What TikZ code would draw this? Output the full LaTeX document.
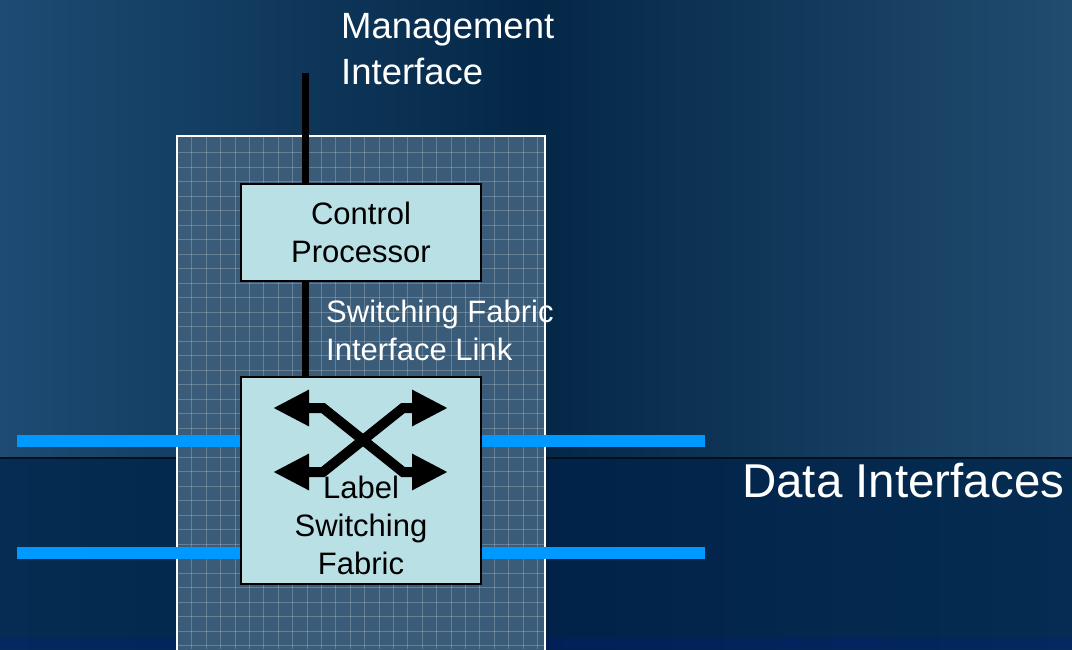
\documentclass[tikz,border=0pt]{standalone}
\usepackage{fontspec}
\setmainfont{Liberation Sans}
\usetikzlibrary{arrows.meta}

\definecolor{fondoA}{HTML}{1D4B73}
\definecolor{fondoB}{HTML}{042747}
\definecolor{fondoC}{HTML}{214C6F}
\definecolor{fondoD}{HTML}{052C52}
\definecolor{fondoE}{HTML}{022248}
\definecolor{panel}{HTML}{3A5C78}
\definecolor{caja}{HTML}{B9E0E4}
\definecolor{datos}{HTML}{0099FF}

\begin{document}
\begin{tikzpicture}[x=1pt, y=-1pt,
    bloque/.style={draw=black, line width=2pt, fill=caja, inner sep=0pt, minimum width=240pt, align=center, font=\fontsize{31}{38}\selectfont},
    texto/.style={inner sep=0pt, align=center, font=\fontsize{31}{38}\selectfont},
    rotulo/.style={text=white, inner sep=0pt, align=left, font=\fontsize{31}{38}\selectfont},
    linea/.style={line width=7pt, draw=black},
    enlace/.style={line width=12pt, draw=datos},
    flecha/.style={line width=10pt, {Triangle[length=36pt,width=34pt]}-{Triangle[length=36pt,width=34pt]}}
]
    \useasboundingbox (0,0) rectangle (1072,649);

    % --- FONDO ---
    \shade[left color=fondoA, right color=fondoC, middle color=fondoB] (0,0) rectangle (1072,458);
    \shade[left color=fondoD, right color=fondoD, middle color=fondoE] (0,458) rectangle (1072,649);
    \draw[line width=2pt, draw=black!60!fondoB] (0,458) -- (1072,458);
    \fill[blue!60!fondoD, opacity=0.15] (0,637) rectangle (1072,649);

    % --- PANEL CUADRICULADO ---
    \fill[panel] (177,136) rectangle (545,660);
    \foreach \x in {191.7,206.1,...,545} \draw[white, opacity=0.22, line width=0.7pt] (\x,136) -- (\x,649);
    \foreach \y in {152.8,167.3,...,649} \draw[white, opacity=0.22, line width=0.7pt] (177,\y) -- (545,\y);
    \draw[white, line width=2pt] (177,136) rectangle (545,660);

    % --- INTERFAZ DE GESTION Y PROCESADOR DE CONTROL ---
    \coordinate (MI) at (305,73);
    \node[bloque, minimum height=97pt] (CP) at (361,232.5) {Control\\Processor};
    \draw[linea] (MI) -- (MI |- CP.north);

    % --- MATRIZ DE CONMUTACION ---
    \node[bloque, minimum height=207pt] (LSF) at (361,480.5) {};
    \draw[linea] (CP.south -| MI) -- (LSF.north -| MI);
    \draw[flecha] (273,408) -- (323,408) -- (403,472) -- (448,472);
    \draw[flecha] (273,472) -- (323,472) -- (403,408) -- (448,408);
    \node[texto] (LSFt) at (361,525) {Label\\Switching\\Fabric};

    % --- INTERFACES DE DATOS ---
    \coordinate (E1) at (17,440.5);
    \coordinate (E2) at (17,552.5);
    \coordinate (S1) at (705,440.5);
    \coordinate (S2) at (705,552.5);
    \draw[enlace] (E1) -- (E1 -| LSF.west);
    \draw[enlace] (E2) -- (E2 -| LSF.west);
    \draw[enlace] (LSF.east |- S1) -- (S1);
    \draw[enlace] (LSF.east |- S2) -- (S2);

    % --- ROTULOS ---
    \node[rotulo, anchor=north west, font=\fontsize{36.5}{46}\selectfont] (MIt) at (341,13) {Management\\Interface};
    \node[rotulo, anchor=north west] (SFt) at (326,300) {Switching Fabric\\Interface Link};
    \node[rotulo, anchor=base west, font=\fontsize{47.5}{56}\selectfont] (DIt) at (742,497) {Data Interfaces};
\end{tikzpicture}
\end{document}
